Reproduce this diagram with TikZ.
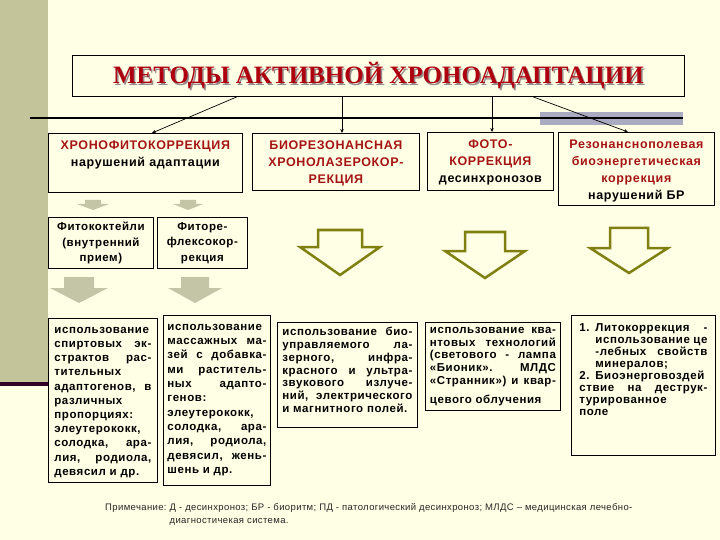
\documentclass[tikz,border=0pt]{standalone}
\usepackage{fontspec}
\setmainfont{Liberation Serif}
\newfontfamily\boxfont[LetterSpace=5]{Liberation Sans}
\newfontfamily\notefont[LetterSpace=4]{Liberation Sans}
\definecolor{bgcream}{RGB}{255,255,230}
\definecolor{stripolive}{RGB}{196,196,154}
\definecolor{darkplum}{RGB}{48,0,40}
\definecolor{barlilac}{RGB}{170,170,192}
\definecolor{titlered}{RGB}{175,0,15}
\definecolor{shadowgray}{RGB}{150,140,140}
\definecolor{hdrred}{RGB}{165,20,20}
\definecolor{olivedark}{RGB}{128,128,16}
\definecolor{grayarrow}{RGB}{196,196,166}
\usetikzlibrary{arrows.meta,positioning}
% down-pointing block arrow: style, centre x, top y, half stem, half head, stem height, total height
\newcommand{\blockarrow}[7]{%
  \draw[#1] ({#2-#4},{#3}) -- ({#2+#4},{#3}) -- ({#2+#4},{#3+#6}) -- ({#2+#5},{#3+#6})
    -- ({#2},{#3+#7}) -- ({#2-#5},{#3+#6}) -- ({#2-#4},{#3+#6}) -- cycle;}

\begin{document}
\begin{tikzpicture}[x=1pt, y=-1pt,
  cell/.style={draw, line width=0.8pt, fill=bgcream, anchor=north west, inner sep=0pt},
  titletext/.style={inner sep=0pt, font=\bfseries\fontsize{25}{28}\selectfont},
  hdr/.style={anchor=north, inner sep=0pt, align=center, font=\boxfont\bfseries\fontsize{12.5}{17}\selectfont},
  sub/.style={anchor=north, inner sep=0pt, align=center, font=\boxfont\bfseries\fontsize{11.5}{15.5}\selectfont},
  body/.style={anchor=north, inner sep=0pt, align=justify, font=\boxfont\bfseries\fontsize{11.5}{13.5}\selectfont},
  conn/.style={-{Stealth[length=4pt,width=3.5pt]}, line width=0.7pt},
  grayarr/.style={fill=grayarrow, draw=none},
  olivearr/.style={draw=olivedark, line width=2.5pt, fill=bgcream, line join=miter}]
\useasboundingbox (0,0) rectangle (720,540);
\fill[bgcream] (0,0) rectangle (720,540);
% left strip
\fill[stripolive] (0,0) rectangle (48,382);
\fill[darkplum] (0,382) rectangle (48,386);
% rule under the title
\fill[barlilac] (540,112) rectangle (683,125);
\draw[line width=2.2pt] (30,118) -- (683,118);

% Title
\node[cell, minimum width=612pt, minimum height=41pt] (title) at (72,55) {};
\node[titletext, text=shadowgray] (titleshadow) at ([xshift=1.5pt,yshift=-1.5pt]title.center) {МЕТОДЫ АКТИВНОЙ ХРОНОАДАПТАЦИИ};
\node[titletext, text=titlered] (titlelabel) at (title.center) {МЕТОДЫ АКТИВНОЙ ХРОНОАДАПТАЦИИ};

% Methods
\node[cell, minimum width=194pt, minimum height=59pt] (phyto) at (48,133) {};
\node[hdr, text width=190pt] (phytotext) at ([yshift=-8pt]phyto.north)
  {\textcolor{hdrred}{ХРОНОФИТОКОРРЕКЦИЯ}\\ нарушений адаптации};
\node[cell, minimum width=167pt, minimum height=57pt] (laser) at (252,133) {};
\node[hdr, text width=163pt, text=hdrred] (lasertext) at ([yshift=-8pt]laser.north)
  {БИОРЕЗОНАНСНАЯ\\ ХРОНОЛАЗЕРОКОР-\\ РЕКЦИЯ};
\node[cell, minimum width=126pt, minimum height=58pt] (photo) at (427,132) {};
\node[hdr, text width=122pt] (phototext) at ([yshift=-8pt]photo.north)
  {\textcolor{hdrred}{ФОТО-}\\ \textcolor{hdrred}{КОРРЕКЦИЯ}\\ десинхронозов};
\node[cell, minimum width=156pt, minimum height=73pt] (field) at (558,132) {};
\node[hdr, text width=154pt] (fieldtext) at ([yshift=-8pt]field.north)
  {\textcolor{hdrred}{Резонансно­полевая}\\ \textcolor{hdrred}{биоэнергетическая}\\ \textcolor{hdrred}{коррекция}\\ нарушений БР};

% Connectors
\draw[conn] ([xshift=165pt]title.south west) -- ([xshift=104pt]phyto.north west);
\draw[conn] ([xshift=270pt]title.south west) -- ([xshift=90pt]laser.north west);
\draw[conn] ([xshift=420pt]title.south west) -- ([xshift=65pt]photo.north west);
\draw[conn] ([xshift=461pt]title.south west) -- ([xshift=70pt]field.north west);

% Phyto branches
\blockarrow{grayarr}{93}{200}{8}{16}{4}{10}
\blockarrow{grayarr}{188}{200}{8}{15}{4}{10}
\node[cell, minimum width=105pt, minimum height=51pt] (cocktail) at (48,217) {};
\node[sub, text width=101pt] (cocktailtext) at ([yshift=-5pt]cocktail.north)
  {Фитококтейли\\ (внутренний\\ прием)};
\node[cell, minimum width=90pt, minimum height=51pt] (reflex) at (157,217) {};
\node[sub, text width=86pt] (reflextext) at ([yshift=-5pt]reflex.north)
  {Фиторе-\\ флексокор-\\ рекция};
\blockarrow{grayarr}{79}{277}{15}{29}{11}{26}
\blockarrow{grayarr}{195}{277}{14}{27}{11}{26}

% Outline arrows
\blockarrow{olivearr}{340}{230}{22}{40}{17}{45}
\blockarrow{olivearr}{485}{232}{20}{40}{19}{46}
\blockarrow{olivearr}{629}{228}{19}{39}{20}{45}

% Details
\node[cell, minimum width=109pt, minimum height=164pt] (extract) at (48,318) {};
\node[body, text width=97pt, font=\boxfont\bfseries\fontsize{11.5}{14.2}\selectfont] (extracttext) at ([yshift=-9pt]extract.north)
  {использование\linebreak спиртовых эк-\linebreak страктов рас-\linebreak тительных\linebreak адаптогенов, в\linebreak различных\linebreak пропорциях:\linebreak элеутерококк,\linebreak солодка, ара-\linebreak лия, родиола,\linebreak девясил и др.};
\node[cell, minimum width=107pt, minimum height=170pt] (massage) at (163,315) {};
\node[body, text width=99pt, font=\boxfont\bfseries\fontsize{11.5}{14.3}\selectfont] (massagetext) at ([yshift=-9pt]massage.north)
  {использование\linebreak массажных ма-\linebreak зей с добавка-\linebreak ми раститель-\linebreak ных адапто-\linebreak генов:\linebreak элеутерококк,\linebreak солодка, ара-\linebreak лия, родиола,\linebreak девясил, жень-\linebreak шень и др.};
\node[cell, minimum width=140pt, minimum height=105pt] (bioctrl) at (277,322) {};
\node[body, text width=130pt, font=\boxfont\bfseries\fontsize{11.5}{12.8}\selectfont] (bioctrltext) at ([yshift=-5pt]bioctrl.north)
  {использование био-\linebreak управляемого ла-\linebreak зерного, инфра-\linebreak красного и ультра-\linebreak звукового излуче-\linebreak ний, электрического\linebreak и магнитного полей.};
\node[cell, minimum width=135pt, minimum height=88pt] (quantum) at (425,322) {};
\node[body, text width=126pt, font=\boxfont\bfseries\fontsize{11.5}{12.8}\selectfont] (quantumtext) at ([yshift=-5pt]quantum.north)
  {использование ква-\linebreak нтовых технологий\linebreak (светового - лампа\linebreak «Бионик». МЛДС\linebreak «Странник») и квар-\vadjust{\vskip 6pt}\linebreak цевого облучения};
\node[cell, minimum width=144pt, minimum height=140pt] (litho) at (571,315) {};
\node[body, text width=128pt, font=\boxfont\bfseries\fontsize{11.5}{12}\selectfont] (lithotext) at ([yshift=-8pt]litho.north)
  {\hangindent=16pt\hangafter=1\makebox[16pt][l]{1.}Литокоррекция -\linebreak использование це\linebreak -лебных свойств\linebreak минералов;\par
   \hangindent=16pt\hangafter=1\makebox[16pt][l]{2.}Биоэнерговоздей\linebreak ствие на деструк-\linebreak турированное\linebreak поле};

% Note
\node[anchor=north west, inner sep=0pt, text=black!85, font=\notefont\fontsize{9.5}{13}\selectfont] (note) at (105,501)
  {\begin{tabular}{@{}l@{\ }l@{}}Примечание: & Д - десинхроноз; БР - биоритм; ПД - патологический десинхроноз; МЛДС – медицинская лечебно-\\
   & диагностичекая система.\end{tabular}};
\end{tikzpicture}
\end{document}
